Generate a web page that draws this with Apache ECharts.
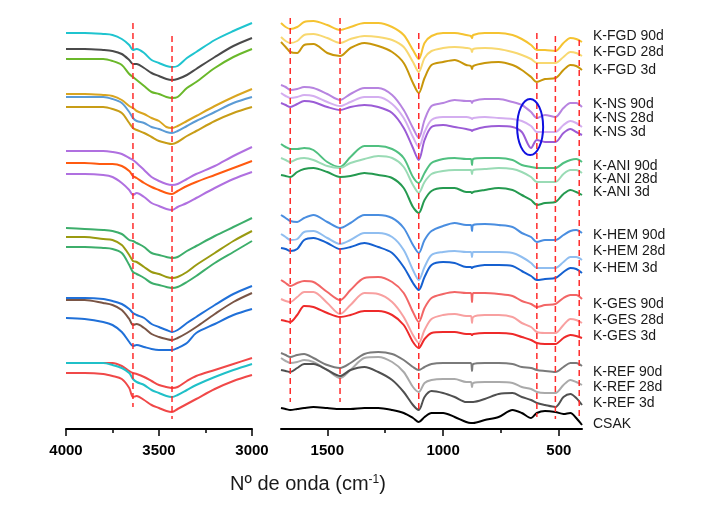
<!DOCTYPE html>
<html>
<head>
<meta charset="utf-8">
<script src="https://cdn.jsdelivr.net/npm/echarts@6/dist/echarts.min.js"></script>
<style>
html, body { margin: 0; padding: 0; background: #fff; }
#main { width: 721px; height: 514px; }
</style>
</head>
<body>
<div id="main"></div>
<script>
// numeros de onda muestreados (cm-1)
var wnLeft = [4000,3900,3800,3750,3700,3660,3640,3620,3580,3540,3500,3460,3430,3400,3350,3300,3200,3100,3000];
var wnRight = [1700,1680,1660,1630,1600,1560,1500,1445,1400,1340,1280,1220,1170,1130,1105,1080,1050,1000,950,900,880,875,870,820,760,700,660,620,595,560,515,480,450,425,400];

// zona OH (4000-3000), de arriba a abajo
var oh1 = [396,396,395,394,390,384,379,380,376,369,366,363,362,363,371,377,389,398,406];
var oh2 = [380,380,379,378,375,369,365,365,361,356,353,350,349,350,354,360,372,383,391];
var oh3 = [370,370,370,368,364,355,352,349,343,337,335,332,331,332,341,347,361,372,380];
var oh4 = [335,335,334,333,329,323,321,318,315,311,308,302,301,303,308,313,323,332,340];
var oh5 = [332,332,332,330,326,317,311,308,306,302,300,297,296,298,303,308,317,326,332];
var oh6 = [322,322,322,320,316,306,301,299,296,292,288,286,285,287,293,298,308,316,322];
var oh7 = [278,278,278,277,275,271,269,266,259,252,248,245,244,245,250,255,263,273,282];
var oh8 = [266,266,265,265,263,258,253,251,246,242,239,236,235,238,243,247,254,261,268];
var oh9 = [255,255,254,252,246,239,234,236,232,226,223,220,219,222,226,231,241,250,257];
var oh10 = [201,200,199,198,195,189,188,186,182,176,174,172,171,172,178,183,193,202,211];
var oh11 = [192,192,190,189,184,174,168,167,162,157,155,152,151,152,157,164,176,188,198];
var oh12 = [182,182,181,180,176,164,157,155,151,146,144,142,141,142,147,153,166,177,188];
var oh13 = [131,131,130,128,125,120,116,114,111,105,102,99,97,99,106,112,124,135,143];
var oh14 = [129,129,126,124,119,110,104,105,101,95,92,90,89,91,96,102,115,127,136];
var oh15 = [111,110,107,104,97,87,83,84,82,80,79,79,79,81,86,96,105,114,120];
var oh16 = [66,66,66,66,63,58,56,55,52,48,44,42,41,42,48,53,59,65,71];
var oh17 = [66,66,66,64,61,56,50,47,44,39,36,33,32,34,39,44,52,59,65];
var oh18 = [56,56,55,53,50,41,32,33,29,24,21,18,17,20,25,30,40,48,54];

// zona 1700-400
var fgd90 = [406,402,400,402,407,408,404,399,402,406,406,402,394,379,370,386,393,396,396,394,393,391,394,396,396,394,390,384,379,379,378,386,391,390,387];
var fgd28 = [392,388,386,388,394,395,391,386,390,393,392,389,382,367,357,371,378,381,382,381,380,377,380,381,380,377,374,370,366,366,366,372,377,376,373];
var fgd3 = [387,382,377,376,384,385,376,373,381,386,383,377,366,346,336,351,364,367,369,364,363,360,363,366,367,364,359,352,347,350,351,359,364,363,359];
var ns90 = [344,342,339,340,342,341,335,329,335,341,341,334,319,301,291,309,323,326,329,328,328,326,328,330,330,327,324,317,311,314,312,321,326,326,322];
var ns28 = [336,333,331,332,334,333,327,323,327,332,332,325,311,292,282,297,309,312,312,312,311,310,311,312,311,310,308,303,297,297,297,304,308,306,302];
var ns3 = [326,324,322,325,328,327,322,319,322,324,322,316,301,281,269,289,302,304,302,300,299,298,299,302,303,302,297,281,289,287,287,296,300,297,294];
var ani90 = [285,282,280,280,281,279,267,262,272,283,283,280,271,252,246,256,266,270,271,270,270,264,270,271,271,269,264,262,261,261,261,266,269,270,267];
var ani28 = [271,269,267,270,271,269,263,261,266,270,273,271,262,244,236,247,255,258,259,259,259,255,259,260,261,260,257,252,247,247,247,255,259,259,256];
var ani3 = [254,253,252,257,260,261,257,252,253,256,254,251,241,222,216,229,238,241,241,237,237,236,237,239,241,239,234,229,224,226,227,235,239,237,234];
var hem90 = [214,211,208,207,211,214,207,201,206,214,214,211,201,184,176,189,198,203,206,204,204,198,204,205,204,202,196,192,187,189,189,194,198,199,196];
var hem28 = [195,192,189,190,197,198,191,185,189,196,196,192,179,159,149,162,174,177,178,177,177,172,177,177,177,176,172,166,161,161,161,167,172,172,169];
var hem3 = [181,180,178,180,189,191,186,180,182,186,182,176,162,146,139,152,164,167,166,162,162,161,162,164,164,163,158,153,149,150,151,157,161,160,156];
var ges90 = [149,146,143,146,148,147,137,129,139,151,152,147,136,117,107,121,131,135,137,136,136,127,136,136,135,133,128,125,122,124,125,131,134,134,130];
var ges28 = [130,128,127,132,137,137,126,115,124,136,135,127,112,94,86,99,110,114,115,113,113,106,112,114,114,112,106,102,97,96,96,104,110,109,106];
var ges3 = [109,108,107,114,123,122,116,112,114,118,118,114,104,87,81,90,96,97,97,95,95,94,95,96,96,95,92,89,86,85,85,91,94,93,91];
var ref90 = [76,74,72,74,75,71,64,61,66,75,77,75,69,62,59,62,65,66,66,66,66,58,65,66,66,65,62,61,59,58,57,62,66,66,63];
var ref28 = [71,68,66,67,69,67,59,51,59,71,72,67,57,42,37,46,49,50,50,47,47,42,46,47,47,46,42,40,37,36,36,44,49,47,44];
var ref3 = [59,58,57,61,65,65,59,53,59,62,57,49,37,24,19,32,38,36,32,27,27,27,27,30,35,36,32,29,26,24,22,32,35,31,24];
var csak = [21,20,19,20,21,22,21,20,20,21,21,19,16,11,7,12,16,16,12,7,6,6,6,9,12,19,16,11,16,18,17,15,16,11,4];

var muestras = ['K-FGD 90d','K-FGD 28d','K-FGD 3d','K-NS 90d','K-NS 28d','K-NS 3d',
    'K-ANI 90d','K-ANI 28d','K-ANI 3d','K-HEM 90d','K-HEM 28d','K-HEM 3d',
    'K-GES 90d','K-GES 28d','K-GES 3d','K-REF 90d','K-REF 28d','K-REF 3d','CSAK'];

// bandas marcadas: [numero de onda, desde, hasta]
var bandasOH = [[3640, 406, 22], [3430, 393, 10]];
var bandas = [[1660, 411, 27], [1445, 411, 27], [1105, 396, 17], [595, 396, 12], [515, 393, 10], [412, 389, 12]];

var ohCol = ['#1fc4cf','#4a4a4a','#6ab82a','#d9a520','#5b9bd5','#c89d17','#b070e0','#ff5a10','#b070e0',
    '#3dae6b','#9a9a10','#3dae6b','#2070d8','#7a5545','#2070d8','#f04848','#20c0c8','#f04848'];
var colR = ['#f5c331','#f8d870','#c8960a','#b784e0','#d4aef0','#9b5cd6','#50c080','#9adbb5','#259a50',
    '#4a8ee0','#90bef0','#1560d0','#f26666','#f8a0a0','#ee2a2a','#7a7a7a','#aaaaaa','#505050','#000000'];
var labelTop = [36,52,70,104,118,132,166,179,192,235,251,268,304,320,336,372,387,403,424];

var chart = echarts.init(document.getElementById('main'));

function serie(xs, ys, color, g) {
    return {
        type: 'line', xAxisIndex: g, yAxisIndex: g,
        data: xs.map(function (x, i) { return [x, ys[i]]; }),
        showSymbol: false, smooth: 0.3, silent: true,
        lineStyle: { color: color, width: 2 }
    };
}
function banda(b, g) {
    return {
        type: 'line', xAxisIndex: g, yAxisIndex: g, z: 5,
        data: [[b[0], b[1]], [b[0], b[2]]],
        showSymbol: false, silent: true,
        lineStyle: { color: '#ff2b2b', width: 1.5, type: [6, 4] }
    };
}

var series = [];
[oh1,oh2,oh3,oh4,oh5,oh6,oh7,oh8,oh9,oh10,oh11,oh12,oh13,oh14,oh15,oh16,oh17,oh18].forEach(function (d, i) {
    series.push(serie(wnLeft, d, ohCol[i], 0));
});
[fgd90,fgd28,fgd3,ns90,ns28,ns3,ani90,ani28,ani3,hem90,hem28,hem3,ges90,ges28,ges3,ref90,ref28,ref3,csak].forEach(function (d, i) {
    series.push(serie(wnRight, d, colR[i], 1));
});
bandasOH.forEach(function (b) { series.push(banda(b, 0)); });
bandas.forEach(function (b) { series.push(banda(b, 1)); });

var tickFont = {
    color: '#000', fontWeight: 'bold', fontSize: 15, fontFamily: 'Liberation Sans, Arial', margin: 14,
    formatter: function (v) { return String(v); }
};
function eje(g, min, max, major) {
    return {
        type: 'value', gridIndex: g, min: min, max: max, inverse: true,
        axisLine: { onZero: false, lineStyle: { color: '#000', width: 2 } },
        axisTick: { customValues: major, length: 7, lineStyle: { color: '#000', width: 1.5 } },
        axisLabel: Object.assign({ customValues: major }, tickFont),
        splitLine: { show: false }
    };
}
function menor(g, min, max, vals) {
    return {
        type: 'value', gridIndex: g, min: min, max: max, inverse: true, position: 'bottom',
        axisLine: { show: false },
        axisTick: { customValues: vals, length: 4, lineStyle: { color: '#000', width: 1.5 } },
        axisLabel: { show: false },
        splitLine: { show: false }
    };
}

var option = {
    backgroundColor: '#fff',
    animation: false,
    grid: [
        { left: 66, width: 186, top: 0, height: 429 },
        { left: 281, width: 301, top: 0, height: 429 }
    ],
    xAxis: [
        eje(0, 3000, 4000, [3000, 3500, 4000]),
        eje(1, 400, 1700, [500, 1000, 1500]),
        menor(0, 3000, 4000, [3250, 3750]),
        menor(1, 400, 1700, [750, 1250])
    ],
    yAxis: [
        { type: 'value', gridIndex: 0, min: 0, max: 429, show: false },
        { type: 'value', gridIndex: 1, min: 0, max: 429, show: false }
    ],
    series: series
};
chart.setOption(option);

// textos y elipse
var graficos = muestras.map(function (m, i) {
    return {
        type: 'text', x: 593, y: labelTop[i],
        style: { text: m, fill: '#1a1a1a', fontSize: 14, fontFamily: 'Liberation Sans, Arial', verticalAlign: 'middle' }
    };
});
graficos.push({
    type: 'text', x: 308, y: 484,
    style: {
        text: 'Nº de onda (cm{s|-1})',
        fill: '#1a1a1a', fontSize: 20, fontFamily: 'Liberation Sans, Arial',
        align: 'center', verticalAlign: 'middle',
        rich: { s: { fontSize: 12, fontFamily: 'Liberation Sans, Arial', verticalAlign: 'top', lineHeight: 12, padding: [0, 0, 10, 0] } }
    }
});
var c = chart.convertToPixel({ gridIndex: 1 }, [624, 302]);
graficos.push({
    type: 'ellipse', shape: { cx: c[0], cy: c[1], rx: 13, ry: 28 },
    style: { fill: 'none', stroke: '#1010e0', lineWidth: 2 }, z: 10
});
chart.setOption({ graphic: graficos });
</script>
</body>
</html>
